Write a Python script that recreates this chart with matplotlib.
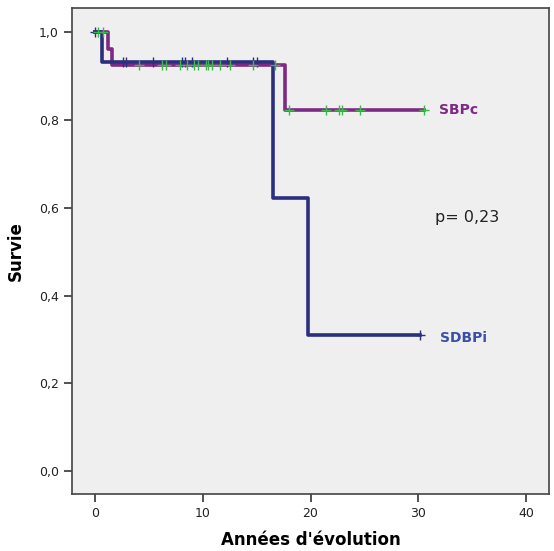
import matplotlib
matplotlib.use('Agg')
import matplotlib.pyplot as plt
import numpy as np
from matplotlib.ticker import FuncFormatter

# --- data ---
# SDBPi (navy)
sdbpi_times = [0.0, 0.7, 16.5, 19.75]
sdbpi_surv = [1.0, 0.933, 0.622, 0.311]
sdbpi_end = 30.1
sdbpi_censor = [0.0, 2.6, 2.9, 5.4, 8.1, 8.4, 9.0, 12.3, 14.7, 15.0, 30.1]

# SBPc (purple)
sbpc_times = [0.0, 1.2, 1.6, 17.6]
sbpc_surv = [1.0, 0.963, 0.926, 0.823]
sbpc_end = 30.5
sbpc_censor = [0.3, 0.8, 4.1, 6.2, 6.6, 7.9, 8.6, 9.2, 9.6, 10.3, 10.5, 10.9,
               11.6, 12.5, 14.7, 16.7, 18.05, 21.4, 22.6, 22.9, 24.6, 30.5]

p_text = "p= 0,23"

x_ticks = [0, 10, 20, 30, 40]
y_ticks = [0.0, 0.2, 0.4, 0.6, 0.8, 1.0]

NAVY = '#2b2f7e'
PURPLE = '#7d2a84'
GREEN = '#3cb84a'
BLUE_LABEL = '#3b4fa8'


def step_xy(times, surv, end):
    x = list(times) + [end]
    y = list(surv) + [surv[-1]]
    return x, y


def surv_at(times, surv, t):
    idx = np.searchsorted(times, t, side='right') - 1
    return np.array(surv)[idx]


fig = plt.figure(figsize=(5.54, 5.51), dpi=100)
ax = fig.add_axes([0.130, 0.1034, 0.861, 0.8826])
ax.set_facecolor('#efefef')

x, y = step_xy(sbpc_times, sbpc_surv, sbpc_end)
ax.step(x, y, where='post', color=PURPLE, linewidth=2.6, zorder=2)
x, y = step_xy(sdbpi_times, sdbpi_surv, sdbpi_end)
ax.step(x, y, where='post', color=NAVY, linewidth=2.6, zorder=3)

# censor marks
cy = surv_at(sdbpi_times, sdbpi_surv, np.array(sdbpi_censor))
ax.plot(sdbpi_censor, cy, linestyle='none', marker='+', color=NAVY,
        markersize=6.5, markeredgewidth=1.0, zorder=4)
cy = surv_at(sbpc_times, sbpc_surv, np.array(sbpc_censor))
ax.plot(sbpc_censor, cy, linestyle='none', marker='+', color=GREEN,
        markersize=6.5, markeredgewidth=1.0, zorder=5)

# annotations
ax.text(31.9, 0.823, "SBPc", color=PURPLE, fontsize=10, fontweight='bold',
        va='center', ha='left')
ax.text(32.0, 0.303, "SDBPi", color=BLUE_LABEL, fontsize=10, fontweight='bold',
        va='center', ha='left')
ax.text(31.5, 0.578, p_text, color='#222222', fontsize=11.5, va='center', ha='left')

ax.set_xlim(-2.1, 42.1)
ax.set_ylim(-0.052, 1.056)
ax.set_xticks(x_ticks)
ax.set_yticks(y_ticks)
ax.yaxis.set_major_formatter(FuncFormatter(lambda v, p: f"{v:.1f}".replace('.', ',')))
ax.tick_params(direction='out', length=6, width=1.2, color='#333333',
               labelsize=9, labelcolor='#222222')

for side in ['left', 'bottom', 'top', 'right']:
    ax.spines[side].set_color('#444444')
    ax.spines[side].set_linewidth(1.2)

ax.set_xlabel("Années d'évolution", fontsize=12, fontweight='bold', labelpad=8)
ax.set_ylabel("Survie", fontsize=12, fontweight='bold', labelpad=10)

plt.savefig('out.png', dpi=100)
